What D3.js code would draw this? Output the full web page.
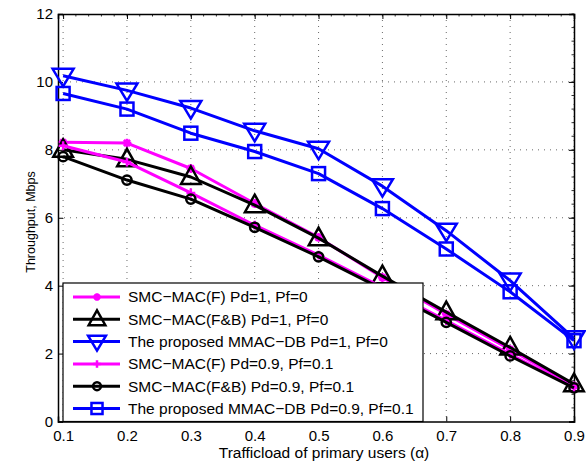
<!DOCTYPE html>
<html><head><meta charset="utf-8">
<script src="https://cdn.jsdelivr.net/npm/d3@7"></script>
<style>body{margin:0;background:#fff}svg{display:block}text{font-family:"Liberation Sans",Arial,sans-serif}</style>
</head><body>
<svg id="c" width="586" height="465"></svg>
<script>
const xValues = [0.1,0.2,0.3,0.4,0.5,0.6,0.7,0.8,0.9];
const smcF_pd1 = [8.22,8.2,7.45,6.42,5.42,4.24,3.16,2.12,1.05];
const smcFB_pd1 = [8.0,7.72,7.2,6.37,5.4,4.28,3.22,2.18,1.1];
const mmac_pd1 = [10.18,9.75,9.23,8.56,8.03,6.93,5.62,4.15,2.45];
const smcF_pd09 = [8.12,7.64,6.73,5.78,4.9,3.95,2.97,1.98,1.0];
const smcFB_pd09 = [7.8,7.11,6.55,5.72,4.85,3.9,2.92,1.93,0.99];
const mmac_pd09 = [9.66,9.2,8.49,7.95,7.3,6.27,5.08,3.82,2.38];
const seriesNames = ["SMC\u2212MAC(F) Pd=1, Pf=0","SMC\u2212MAC(F&B) Pd=1, Pf=0","The proposed MMAC\u2212DB Pd=1, Pf=0","SMC\u2212MAC(F) Pd=0.9, Pf=0.1","SMC\u2212MAC(F&B) Pd=0.9, Pf=0.1","The proposed MMAC\u2212DB Pd=0.9, Pf=0.1"];
const xTicks = [0.1,0.2,0.3,0.4,0.5,0.6,0.7,0.8,0.9];
const yTicks = [0,2,4,6,8,10,12];
const xLabel = "Trafficload of primary users (\u03b1)";
const yLabel = "Throughput, Mbps";

const series = [
  {name:seriesNames[0], values:smcF_pd1, color:"#ff00ff", marker:"star"},
  {name:seriesNames[1], values:smcFB_pd1, color:"#000000", marker:"tri"},
  {name:seriesNames[2], values:mmac_pd1, color:"#0000ff", marker:"tridown"},
  {name:seriesNames[3], values:smcF_pd09, color:"#ff00ff", marker:"plus"},
  {name:seriesNames[4], values:smcFB_pd09, color:"#000000", marker:"circle"},
  {name:seriesNames[5], values:mmac_pd09, color:"#0000ff", marker:"square"}
];

const svg = d3.select("#c");
const L=58, R=574, T=14, B=421.5;
const x = d3.scaleLinear().domain([0.092,0.9]).range([L,R]);
const y = d3.scaleLinear().domain([0,12]).range([B,T]);

// grid
const g = svg.append("g");
g.selectAll(".gx").data(xTicks).join("line")
  .attr("x1",d=>x(d)).attr("x2",d=>x(d)).attr("y1",T).attr("y2",B)
  .attr("stroke","#444").attr("stroke-width",0.8).attr("stroke-dasharray","1,5");
g.selectAll(".gy").data(yTicks.slice(1,-1)).join("line")
  .attr("x1",L).attr("x2",R).attr("y1",d=>y(d)).attr("y2",d=>y(d))
  .attr("stroke","#444").attr("stroke-width",0.8).attr("stroke-dasharray","1,5");

// axes
const xAxis = d3.axisBottom(x).tickValues(xTicks).tickSize(-5).tickPadding(9).tickFormat(d3.format(".1f"));
const yAxis = d3.axisLeft(y).tickValues(yTicks).tickSize(-5).tickPadding(5).tickFormat(d3.format("d"));
const xTop = d3.axisTop(x).tickValues(xTicks).tickSize(-5).tickFormat("");
const yRight = d3.axisRight(y).tickValues(yTicks).tickSize(-5).tickFormat("");
const ax = [
  svg.append("g").attr("transform",`translate(0,${B})`).call(xAxis),
  svg.append("g").attr("transform",`translate(${L},0)`).call(yAxis),
  svg.append("g").attr("transform",`translate(0,${T})`).call(xTop),
  svg.append("g").attr("transform",`translate(${R},0)`).call(yRight)
];
ax.forEach(a=>{
  a.select(".domain").attr("stroke","#000").attr("stroke-width",1.5);
  a.selectAll(".tick line").attr("stroke","#000").attr("stroke-width",1);
  a.selectAll("text").attr("font-size","15px").attr("fill","#000").attr("font-family","Liberation Sans, Arial, sans-serif");
});
// minor ticks on top and right
const topMinor = d3.range(0.1,0.9001,0.02);
svg.append("g").selectAll("line").data(topMinor).join("line")
  .attr("x1",d=>x(d)).attr("x2",d=>x(d)).attr("y1",T).attr("y2",T+2.5).attr("stroke","#000").attr("stroke-width",0.8);
const rightMinor = d3.range(0,12.001,0.4);
svg.append("g").selectAll("line").data(rightMinor).join("line")
  .attr("x1",R).attr("x2",R-2.5).attr("y1",d=>y(d)).attr("y2",d=>y(d)).attr("stroke","#000").attr("stroke-width",0.8);

function drawMarker(sel, type, color, s){
  if(type==="tri"){
    sel.append("path").attr("d",`M0,${-s*0.75}L${s*0.7},${s*0.5}L${-s*0.7},${s*0.5}Z`).attr("fill","none").attr("stroke",color).attr("stroke-width",2.5);
  } else if(type==="tridown"){
    sel.append("path").attr("d",`M0,${s*0.75}L${s*0.75},${-s*0.5}L${-s*0.75},${-s*0.5}Z`).attr("fill","none").attr("stroke",color).attr("stroke-width",2.5);
  } else if(type==="square"){
    const h=s*0.5;
    sel.append("rect").attr("x",-h).attr("y",-h).attr("width",2*h).attr("height",2*h).attr("fill","none").attr("stroke",color).attr("stroke-width",2.5);
  } else if(type==="circle"){
    sel.append("circle").attr("r",s*0.42).attr("fill","none").attr("stroke",color).attr("stroke-width",2.5);
  } else if(type==="plus"){
    const h=s*0.4;
    sel.append("path").attr("d",`M${-h},0H${h}M0,${-h}V${h}`).attr("stroke",color).attr("stroke-width",2.5);
  } else if(type==="star"){
    const h=s*0.4, k=h*0.7;
    sel.append("path").attr("d",`M${-h},0H${h}M0,${-h}V${h}M${-k},${-k}L${k},${k}M${-k},${k}L${k},${-k}`).attr("stroke",color).attr("stroke-width",2.5);
  }
}
const msize = {tri:14,tridown:14,square:13,circle:11,plus:11,star:11};

const line = d3.line().x((d,i)=>x(xValues[i])).y(d=>y(d));
series.forEach(s=>{
  const gs = svg.append("g");
  gs.append("path").attr("d",line(s.values)).attr("fill","none").attr("stroke",s.color).attr("stroke-width",3).attr("stroke-linejoin","round");
  s.values.forEach((v,i)=>{
    const m = gs.append("g").attr("transform",`translate(${x(xValues[i])},${y(v)})`);
    drawMarker(m, s.marker, s.color, msize[s.marker]);
  });
});

// legend
const lg = svg.append("g");
const lx0=63, ly0=283, lw=360, lh=138.5;
lg.append("rect").attr("x",lx0).attr("y",ly0).attr("width",lw).attr("height",lh).attr("fill","#fff").attr("stroke","#000").attr("stroke-width",1.2);
series.forEach((s,i)=>{
  const cy = 297 + i*22.3;
  lg.append("line").attr("x1",73).attr("x2",120).attr("y1",cy).attr("y2",cy).attr("stroke",s.color).attr("stroke-width",3);
  const m = lg.append("g").attr("transform",`translate(97,${cy})`);
  drawMarker(m, s.marker, s.color, msize[s.marker]*0.85);
  lg.append("text").attr("x",128).attr("y",cy).attr("dy","0.35em").attr("font-size","15.5px").attr("fill","#000").text(s.name);
});

// labels
svg.append("text").attr("x",(L+R)/2+8).attr("y",458).attr("text-anchor","middle").attr("font-size","15.5px").attr("fill","#000").text(xLabel);
svg.append("text").attr("transform",`translate(31,222) rotate(-90)`).attr("text-anchor","middle").attr("dy","0.35em").attr("font-size","12.5px").attr("fill","#000").text(yLabel);
</script>
</body></html>
